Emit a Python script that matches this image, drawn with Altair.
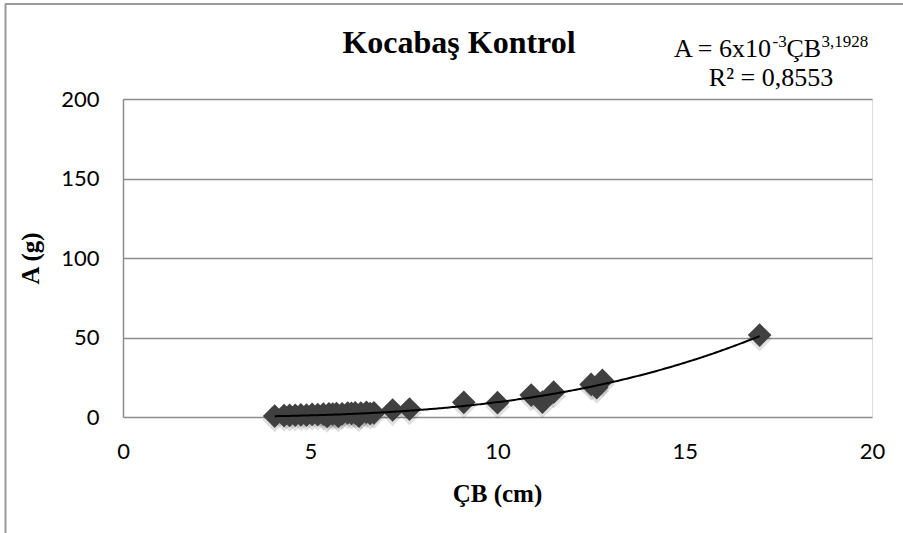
import altair as alt
import pandas as pd

# Measured fish: fork length (ÇB, cm) and weight (A, g)
cb_cm = [4.05, 4.3, 4.45, 4.6, 4.75, 4.9, 5.05, 5.2, 5.35, 5.45, 5.5, 5.6, 5.7,
         5.75, 5.85, 6.0, 6.1, 6.2, 6.3, 6.35, 6.5, 6.6, 6.7, 7.2, 7.65,
         9.1, 10.0, 10.9, 11.2, 11.5, 12.5, 12.65, 12.8, 17.0]
weight_g = [0.6, 0.9, 1.0, 1.1, 1.3, 1.2, 1.6, 1.5, 1.8, 0.3, 2.0, 1.9, 2.2,
            0.4, 2.0, 2.5, 2.3, 2.6, 0.6, 2.4, 3.0, 2.2, 2.6, 4.4, 5.0,
            9.2, 9.0, 13.8, 9.4, 15.6, 20.5, 18.5, 23.0, 51.5]

# Power-law fit A = a * ÇB^b
FIT_A = 0.006
FIT_B = 3.1928

TITLE = "Kocabaş Kontrol"
X_TICKS = [0, 5, 10, 15, 20]
Y_TICKS = [0, 50, 100, 150, 200]

W, H = 749, 318
GRID = "#8c8c8c"
SERIF = "Liberation Serif"

points = pd.DataFrame({"cb": cb_cm, "a": weight_g})

x_enc = alt.X(
    "cb:Q",
    scale=alt.Scale(domain=[0, 20], nice=False),
    axis=alt.Axis(
        values=X_TICKS, grid=False, domain=False, ticks=False, labelFlush=False,
        labelFont="Lato", labelFontSize=22, labelColor="#000", labelPadding=24,
        title="ÇB (cm)", titleFont=SERIF, titleFontSize=25, titleFontWeight="bold",
        titleColor="#000", titleX=374, titleY=76, titleBaseline="middle",
        titleAlign="center",
    ),
)
y_enc = alt.Y(
    "a:Q",
    scale=alt.Scale(domain=[0, 200], nice=False),
    axis=alt.Axis(
        values=Y_TICKS, grid=True, gridColor=GRID, gridWidth=1.5,
        domain=True, domainColor=GRID, domainWidth=1.5, ticks=False,
        labelFlush=False,
        labelFont="Lato", labelFontSize=22, labelColor="#000", labelPadding=24,
        title="A (g)", titleFont=SERIF, titleFontSize=25, titleFontWeight="bold",
        titleColor="#000", titleX=-93, titleY=159, titleAngle=-90,
        titleBaseline="middle", titleAlign="center",
    ),
)

base = alt.Chart(points)

shadow = base.mark_point(
    shape="diamond", filled=True, size=600, color="#000", opacity=0.12
).encode(x=x_enc, y=y_enc, yOffset=alt.value(4))

markers = base.mark_point(
    shape="diamond", filled=True, size=560, color="#404040", opacity=1
).encode(x=x_enc, y=y_enc)

fit = (
    alt.Chart(alt.sequence(4.05, 17.001, 0.05, as_="cb"))
    .transform_calculate(a=f"{FIT_A} * pow(datum.cb, {FIT_B})")
    .mark_line(color="#000", strokeWidth=2)
    .encode(x=alt.X("cb:Q"), y=alt.Y("a:Q"))
)

one = pd.DataFrame({"k": [0]})

def label(text, x, y, size, weight="normal", align="left"):
    return alt.Chart(one).mark_text(
        text=text, font=SERIF, fontSize=size, fontWeight=weight,
        align=align, baseline="alphabetic", color="#000",
    ).encode(x=alt.value(x), y=alt.value(y))

title = label(TITLE, 336, -46, 32, weight="bold", align="center")

# Equation: A = 6x10^-3 ÇB^3,1928 and R²
eq = [
    label("A = 6x10", 551, -42, 26),
    label("-3", 649.5, -52, 17),
    label("ÇB", 663.5, -42, 26),
    label("3,1928", 698.5, -52, 17),
    label("R² = 0,8553", 648, -13, 26, align="center"),
]

# Outer frame lines of the chart area
frame_left = alt.Chart(one).mark_rule(color="#9a9a9a", strokeWidth=2).encode(
    x=alt.value(-117.5), y=alt.value(-95), y2=alt.value(H + 120)
)
frame_top = alt.Chart(one).mark_rule(color="#9a9a9a", strokeWidth=2).encode(
    x=alt.value(-118), x2=alt.value(W + 40), y=alt.value(-95)
)

chart = (
    alt.layer(frame_left, frame_top, shadow, markers, fit, title, *eq)
    .properties(
        width=W, height=H,
        autosize=alt.AutoSizeParams(type="none"),
        padding={"left": 123, "top": 99, "right": 31, "bottom": 116},
    )
    .configure_view(stroke=None)
    .configure(background="#ffffff")
)

chart.save("out.html", embed_options={"renderer": "svg", "actions": False})
